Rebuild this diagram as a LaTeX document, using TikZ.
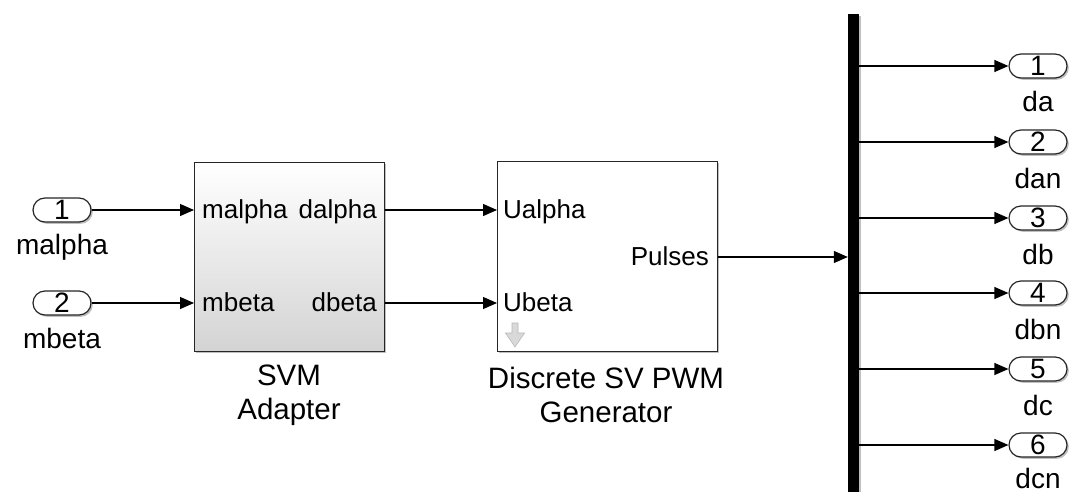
\documentclass[tikz,border=0pt]{standalone}
\usepackage{fontspec}
\setmainfont{Liberation Sans}
\usetikzlibrary{arrows.meta,shapes.misc,shadows}
\begin{document}
\begin{tikzpicture}[x=1pt,y=-1pt,
  lw/.style={line width=1.2pt},
  sig/.style={lw, -{Triangle[length=14pt,width=12pt]}},
  shd/.style={drop shadow={shadow xshift=1.8pt,shadow yshift=-1.8pt,opacity=0.25,fill=black}},
  port/.style={rounded rectangle, draw=black!85, lw, fill=white, shd, minimum width=58pt, minimum height=24pt, inner sep=0pt, font=\fontsize{28}{28}\selectfont},
  blk/.style={draw=black!85, lw, shd, anchor=north west, inner sep=0pt},
  inlab/.style={inner sep=0pt, font=\fontsize{26}{26}\selectfont},
  outlab/.style={inner sep=0pt, anchor=base, font=\fontsize{28}{28}\selectfont},
  bname/.style={inner sep=0pt, anchor=base, font=\fontsize{29.5}{29.5}\selectfont},
]
\useasboundingbox (0,0) rectangle (1070,492);

% blocks
\node[blk, minimum width=190pt, minimum height=189pt, top color=white, bottom color=black!17] (svm) at (194,162) {};
\node[blk, minimum width=220pt, minimum height=190pt, fill=white] (pwm) at (497,161) {};

% block port labels
\node[inlab, anchor=base west] (ma) at (202,218) {malpha};
\node[inlab, anchor=base west] (mb) at (202,311) {mbeta};
\node[inlab, anchor=base east] (da) at (377,218) {dalpha};
\node[inlab, anchor=base east] (db) at (377,311) {dbeta};
\node[inlab, anchor=base west] (ua) at (503,218) {Ualpha};
\node[inlab, anchor=base west] (ub) at (503,311) {Ubeta};
\node[inlab, anchor=base east] (pu) at (709,265) {Pulses};

% down arrow glyph
\draw[black!28, fill=black!15, line width=0.6pt] (512,323) -- (518,323) -- (518,333) -- (524.5,333) -- (515,347) -- (505.5,333) -- (512,333) -- cycle;

% block names
\node[bname] (svmn1) at (289,385) {SVM};
\node[bname] (svmn2) at (289,419) {Adapter};
\node[bname] (pwmn1) at (606,388) {Discrete SV PWM};
\node[bname] (pwmn2) at (606,422) {Generator};

% input ports
\node[port] (in1) at (62,210) {1};
\node[port] (in2) at (62,303) {2};
\node[outlab] (in1l) at (62,254) {malpha};
\node[outlab] (in2l) at (62,348) {mbeta};

% bus bar
\node[fill=black, shd, minimum width=11pt, minimum height=490pt, inner sep=0pt, anchor=north] (bar) at (853.5,14) {};

% output ports
\foreach \i/\y/\b/\t in {1/66/112/da,2/142/188/dan,3/218/264/db,4/293/339/dbn,5/369/415/dc,6/445/488/dcn}{
  \node[port] (o\i) at (1038,\y) {\i};
  \node[outlab] (o\i l) at (1038,\b) {\t};
  \draw[sig] (bar.east |- o\i) -- (o\i.west);
}

% connectors
\coordinate (pul) at (0,257);
\draw[sig] (in1.east) -- (in1.east -| svm.west);
\draw[sig] (in2.east) -- (in2.east -| svm.west);
\draw[sig] (svm.east |- in1) -- (pwm.west |- in1);
\draw[sig] (svm.east |- in2) -- (pwm.west |- in2);
\draw[sig] (pwm.east |- pul) -- (bar.west |- pul);
\end{tikzpicture}
\end{document}
